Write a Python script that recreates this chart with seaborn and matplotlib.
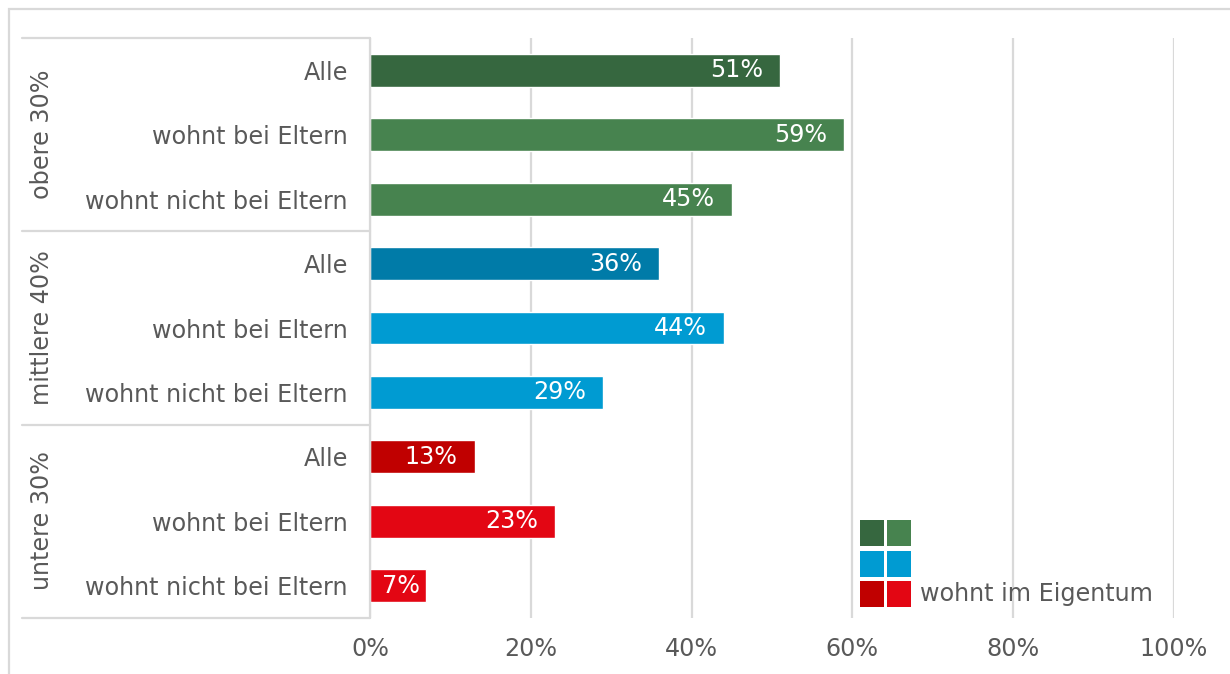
import matplotlib
matplotlib.use("Agg")
import matplotlib.pyplot as plt
from matplotlib.patches import Rectangle
from matplotlib.lines import Line2D
import seaborn as sns
import pandas as pd

# Share living in owned property, by income group and living situation
groups = ["obere 30%", "mittlere 40%", "untere 30%"]
rows = ["Alle", "wohnt bei Eltern", "wohnt nicht bei Eltern"]
values = [51, 59, 45, 36, 44, 29, 13, 23, 7]
colors = ["#36673F", "#47834F", "#47834F",
          "#007BA8", "#009BD2", "#009BD2",
          "#C00000", "#E30613", "#E30613"]
x_ticks = [0, 20, 40, 60, 80, 100]
legend_label = "wohnt im Eigentum"

keys = [f"{g} | {r}" for g in groups for r in rows]
df = pd.DataFrame({"key": keys, "value": values})

sns.set_theme(style="white")
plt.rcParams["font.family"] = ["DejaVu Sans"]
TXT = "#595959"
GRID = "#D9D9D9"
FS = 17.2

W, H = 1230, 674
fig = plt.figure(figsize=(W / 100, H / 100), dpi=100)

def fx(px):
    return px / W

def fy(py):
    return 1 - py / H

ax = fig.add_axes([fx(370), fy(618), fx(1174) - fx(370), fy(38) - fy(618)])

sns.barplot(data=df, x="value", y="key", hue="key", palette=dict(zip(keys, colors)),
            order=keys, orient="h", width=0.51, legend=False, ax=ax, saturation=1)

ax.set_xlim(0, 100)
ax.set_ylim(len(keys) - 0.5, -0.5)
ax.set_xticks(x_ticks)
ax.set_xticklabels([f"{t}%" for t in x_ticks], color=TXT, fontsize=FS)
ax.set_yticks(range(len(keys)))
ax.set_yticklabels([r for g in groups for r in rows], color=TXT, fontsize=FS)
ax.tick_params(axis="y", length=0, pad=16)
ax.tick_params(axis="x", length=0, pad=14)
ax.set_xlabel("")
ax.set_ylabel("")
for s in ax.spines.values():
    s.set_visible(False)
ax.xaxis.grid(True, color=GRID, linewidth=1.6)
ax.set_axisbelow(True)

# value labels inside the bar ends
for i, v in enumerate(values):
    pad = 17 if v >= 10 else 6
    ax.annotate(f"{v}%", xy=(v, i), xytext=(-pad, 0), textcoords="offset pixels",
                ha="right", va="center", color="white", fontsize=FS)

# category axis frame and group separators
line_kw = dict(color=GRID, linewidth=1.6, transform=fig.transFigure)
for py in [38, 231, 425, 618]:
    fig.add_artist(Line2D([fx(22), fx(370)], [fy(py), fy(py)], **line_kw))
fig.add_artist(Line2D([fx(370), fx(370)], [fy(38), fy(618)], **line_kw))

# group labels
for g, py in zip(groups, [134, 328, 521]):
    fig.text(fx(42), fy(py), g, rotation=90, ha="center", va="center",
             color=TXT, fontsize=FS)

# outer frame
fig.add_artist(Rectangle((fx(9), fy(H + 5)), 1.0, fy(9) - fy(H + 5), fill=False,
                         edgecolor=GRID, linewidth=1.6, transform=fig.transFigure))

# legend swatches
sw = [("#36673F", "#47834F"), ("#009BD2", "#009BD2"), ("#C00000", "#E30613")]
for (c1, c2), top in zip(sw, [520, 551, 581]):
    for c, left in zip((c1, c2), (860, 887)):
        fig.add_artist(Rectangle((fx(left), fy(top + 26)), fx(24), fy(top) - fy(top + 26),
                                 facecolor=c, edgecolor="none", transform=fig.transFigure))
fig.text(fx(920), fy(594), legend_label, ha="left", va="center", color=TXT, fontsize=FS)

fig.savefig("out.png", dpi=100)
